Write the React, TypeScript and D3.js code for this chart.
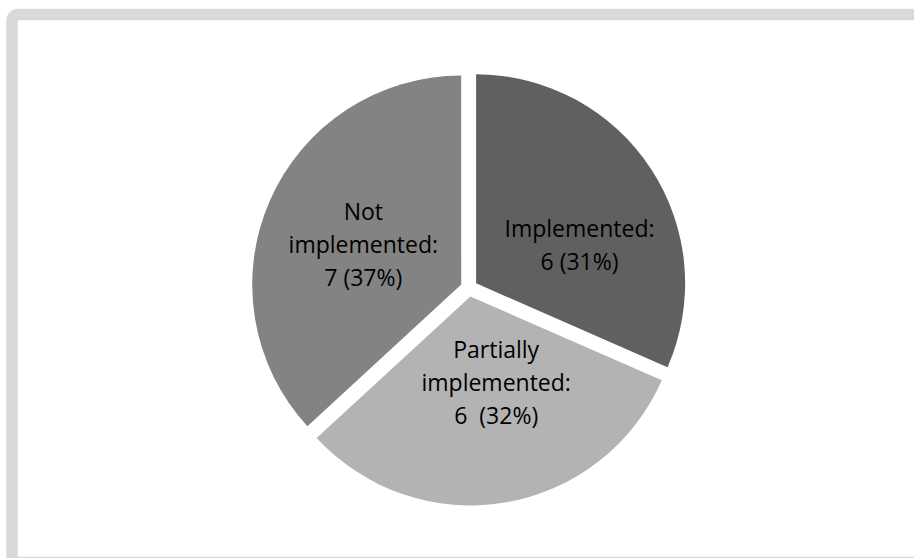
import React from "react";
import * as d3 from "d3";

const categories = ["Implemented", "Partially implemented", "Not implemented"];
const values = [6, 6, 7];
const labelLines = [
  ["Implemented:", "6 (31%)"],
  ["Partially", "implemented:", "6  (32%)"],
  ["Not", "implemented:", "7 (37%)"],
];
const colors = ["#606060", "#b3b3b3", "#838383"];

const W = 914;
const H = 558;
const cx = 469;
const cy = 288;
const R = 209;
const explode = 8.5;
const labelR = 108;
const lineH = 33;
// small layout nudges (px) that mimic the spreadsheet's label placement
const labelNudge: [number, number][] = [
  [13, 21],
  [8, -20],
  [1, 4],
];

export default function App() {
  const pie = d3.pie<number>().sort(null).value((d) => d);
  const arcs = pie(values);
  const arc = d3.arc<d3.PieArcDatum<number>>().innerRadius(0).outerRadius(R);
  const labelArc = d3.arc<d3.PieArcDatum<number>>().innerRadius(labelR).outerRadius(labelR);

  return (
    <svg width={W} height={H} style={{ position: "absolute", left: 0, top: 0 }}>
      <rect x={0} y={0} width={W} height={H} fill="#ffffff" />
      <rect x={12} y={14.5} width={W + 20} height={548} rx={6} fill="none" stroke="#d9d9d9" strokeWidth={11.5} />
      <g transform={`translate(${cx},${cy})`}>
        {arcs.map((a, i) => {
          const mid = (a.startAngle + a.endAngle) / 2;
          const dx = Math.sin(mid) * explode;
          const dy = -Math.cos(mid) * explode;
          const [cxl, cyl] = labelArc.centroid(a);
          const lx = cxl + labelNudge[i][0];
          const ly = cyl + labelNudge[i][1];
          const lines = labelLines[i];
          const y0 = ly - ((lines.length - 1) * lineH) / 2 + 8;
          return (
            <g key={categories[i]} transform={`translate(${dx},${dy})`}>
              <path d={arc(a) || ""} fill={colors[i]} />
              <text
                textAnchor="middle"
                fontFamily="'Open Sans', sans-serif"
                fontSize={23}
                fill="#000"
              >
                {lines.map((t, j) => (
                  <tspan key={j} x={lx} y={y0 + j * lineH} style={{ whiteSpace: "pre" }}>
                    {t}
                  </tspan>
                ))}
              </text>
            </g>
          );
        })}
      </g>
    </svg>
  );
}
